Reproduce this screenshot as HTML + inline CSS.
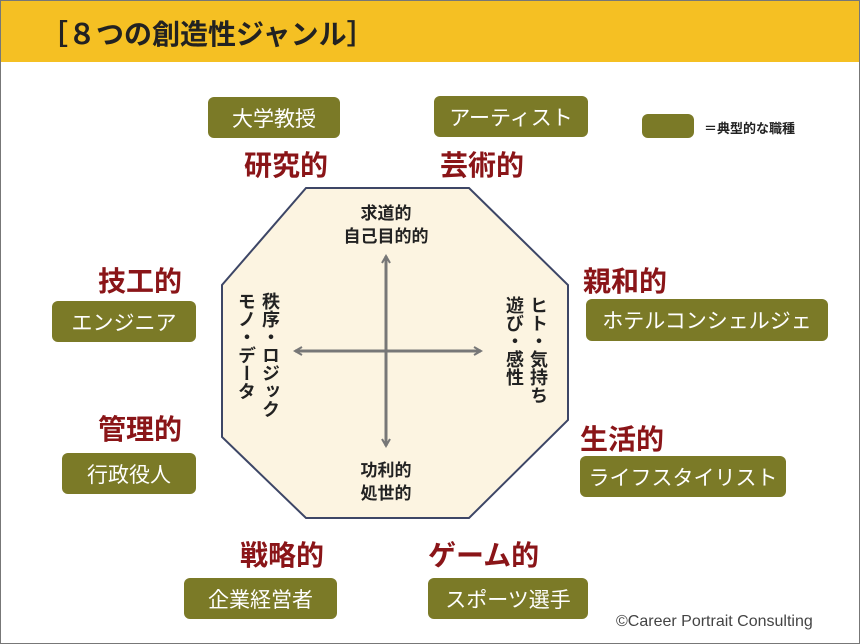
<!DOCTYPE html>
<html><head><meta charset="utf-8"><style>
body{margin:0;width:860px;height:644px;background:#fff;position:relative;overflow:hidden;font-family:"Liberation Sans","Noto Sans CJK JP",sans-serif;}
.frame{position:absolute;left:0;top:0;width:858px;height:642px;border:1px solid #777;}
.hdr{position:absolute;left:0;top:0;width:860px;height:62px;background:#f5c023;}
.title{position:absolute;left:40px;top:13px;font-size:28px;font-weight:bold;color:#222;letter-spacing:0px;}
.b{position:absolute;background:#7b7a27;color:#fff;border-radius:6px;font-size:21px;display:flex;align-items:center;justify-content:center;}
.r{position:absolute;color:#8a1518;font-size:28px;font-weight:bold;}
.t{position:absolute;font-size:17px;font-weight:bold;color:#222;text-align:center;line-height:23px;}
.v{writing-mode:vertical-rl;font-size:18px;line-height:24px;}
</style></head><body>
<div class="hdr"></div>
<div class="title">［８つの創造性ジャンル］</div>
<svg style="position:absolute;left:0;top:0" width="860" height="644">
<defs><marker id="a" markerWidth="10" markerHeight="10" refX="8" refY="5" orient="auto" markerUnits="userSpaceOnUse"><path d="M1,1 L8,5 L1,9" fill="none" stroke="#777" stroke-width="2"/></marker></defs>
<polygon points="306,188 469,188 568,285 568,420 469,518 306,518 222,437 222,285" fill="#fcf4e1" stroke="#3d4666" stroke-width="2"/>
<line x1="386" y1="351" x2="386" y2="256" stroke="#777" stroke-width="3" marker-end="url(#a)"/>
<line x1="386" y1="351" x2="386" y2="446" stroke="#777" stroke-width="3" marker-end="url(#a)"/>
<line x1="386" y1="351" x2="295" y2="351" stroke="#777" stroke-width="3" marker-end="url(#a)"/>
<line x1="386" y1="351" x2="481" y2="351" stroke="#777" stroke-width="3" marker-end="url(#a)"/>
</svg>
<div class="t" style="left:326px;top:202px;width:120px">求道的<br>自己目的的</div>
<div class="t" style="left:326px;top:459px;width:120px">功利的<br>処世的</div>
<div class="t v" style="left:234px;top:292px;height:130px;text-align:left">秩序・ロジック<br>モノ・データ</div>
<div class="t v" style="left:502px;top:296px;height:130px;text-align:left">ヒト・気持ち<br>遊び・感性</div>
<div class="b" style="left:208px;top:97px;width:132px;height:41px">大学教授</div>
<div class="b" style="left:434px;top:96px;width:154px;height:41px">アーティスト</div>
<div class="b" style="left:642px;top:114px;width:52px;height:24px"></div>
<div style="position:absolute;left:704px;top:118px;font-size:13px;font-weight:bold;color:#222">＝典型的な職種</div>
<div class="b" style="left:52px;top:301px;width:144px;height:41px">エンジニア</div>
<div class="b" style="left:586px;top:299px;width:242px;height:42px">ホテルコンシェルジェ</div>
<div class="b" style="left:62px;top:453px;width:134px;height:41px">行政役人</div>
<div class="b" style="left:580px;top:456px;width:206px;height:41px">ライフスタイリスト</div>
<div class="b" style="left:184px;top:578px;width:153px;height:41px">企業経営者</div>
<div class="b" style="left:428px;top:578px;width:160px;height:41px">スポーツ選手</div>
<div class="r" style="left:244px;top:144px">研究的</div>
<div class="r" style="left:440px;top:144px">芸術的</div>
<div class="r" style="left:98px;top:260px">技工的</div>
<div class="r" style="left:583px;top:260px">親和的</div>
<div class="r" style="left:98px;top:408px">管理的</div>
<div class="r" style="left:580px;top:418px">生活的</div>
<div class="r" style="left:240px;top:534px">戦略的</div>
<div class="r" style="left:428px;top:534px">ゲーム的</div>
<div style="position:absolute;left:616px;top:613px;font-size:16px;color:#444">©Career Portrait Consulting</div>
<div class="frame"></div>
</body></html>
